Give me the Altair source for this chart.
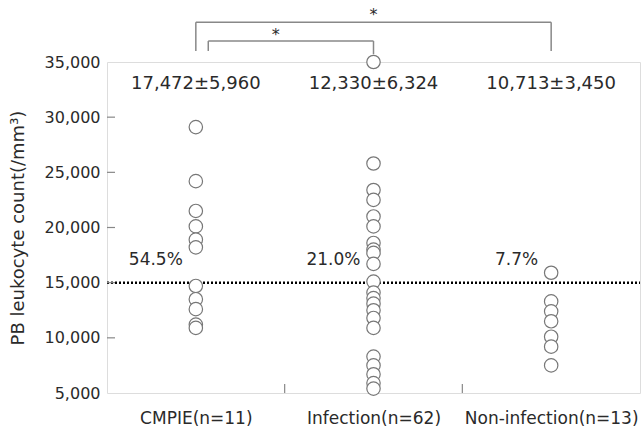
import altair as alt
import pandas as pd

# ---- data ----
categories = ["CMPIE(n=11)", "Infection(n=62)", "Non-infection(n=13)"]

cmpie_values = [29100, 24200, 21500, 20100, 18900, 18200, 14700, 13500, 12600, 11200, 10900]
infection_values = [35000, 25800, 23400, 22500, 21000, 20100, 18600, 18000, 17700, 16700,
                    15100, 14100, 13600, 13100, 12500, 11800, 10900, 8300, 7500, 6700, 5900, 5400]
noninfection_values = [15900, 13300, 12400, 11500, 10100, 9200, 7500]

mean_sd_labels = ["17,472±5,960", "12,330±6,324", "10,713±3,450"]
percent_labels = ["54.5%", "21.0%", "7.7%"]

cutoff = 15000
y_ticks = [5000, 10000, 15000, 20000, 25000, 30000, 35000]

# significance brackets (x in group-index units 0..3, y in count units)
bracket_x = [0.5, 0.5, 2.5, 0.57, 0.57, 1.5]
bracket_x2 = [2.5, 0.5, 2.5, 1.5, 0.57, 1.5]
bracket_y = [38600, 36000, 36000, 36900, 36000, 35700]
bracket_y2 = [38600, 38600, 38600, 36900, 36900, 36900]
star_x = [1.5, 0.95]
star_y = [39300, 37450]

FONT = "DejaVu Sans"
TXT = "#2a2a2a"
W, H = 533, 331

rows = []
for cat, vals in zip(categories, [cmpie_values, infection_values, noninfection_values]):
    for v in vals:
        rows.append({"group": cat, "count": v})
points_df = pd.DataFrame(rows)

stats_df = pd.DataFrame({"group": categories, "label": mean_sd_labels,
                         "pct": percent_labels})
stats_df["y_lab"] = 33000
stats_df["y_pct"] = 17050

tick_df = pd.DataFrame({"v": [t for t in y_ticks if 5000 < t < 35000]})
xtick_df = pd.DataFrame({"b": [1, 2]})
bracket_df = pd.DataFrame({"x": bracket_x, "x2": bracket_x2, "y": bracket_y, "y2": bracket_y2})
star_df = pd.DataFrame({"x": star_x, "y": star_y, "t": ["*", "*"]})
cut_df = pd.DataFrame({"c": [cutoff]})

yscale = alt.Scale(domain=[5000, 35000], nice=False, zero=False)
xnom = alt.X("group:N", sort=categories, title=None,
             axis=alt.Axis(labelFontSize=17, labelColor=TXT, labelFont=FONT, ticks=False,
                           domain=False, labelPadding=17, labelAngle=0, grid=False))
yaxis = alt.Axis(values=y_ticks, format=",d", labelFontSize=16, labelColor=TXT, labelFont=FONT,
                 ticks=False, domain=False, grid=False, labelPadding=7,
                 title="PB leukocyte count(/mm³)", titleFontSize=18, titleFont=FONT,
                 titleColor=TXT, titleFontWeight="normal", titleX=-89, titleY=H / 2,
                 titleAngle=-90, titleAlign="center", titleBaseline="middle")

points = alt.Chart(points_df).mark_point(
    shape="circle", filled=True, fill="white", stroke="#777777", strokeWidth=1.2,
    size=180, opacity=1
).encode(
    x=xnom,
    y=alt.Y("count:Q", scale=yscale, axis=yaxis),
)

cut_line = alt.Chart(cut_df).mark_rule(color="black", strokeWidth=2.5, strokeDash=[2, 2]).encode(
    y=alt.Y("c:Q", scale=yscale), x=alt.value(0), x2=alt.value(W)
)

yticks = alt.Chart(tick_df).mark_rule(color="#888888", strokeWidth=1.2).encode(
    y=alt.Y("v:Q", scale=yscale), x=alt.value(0), x2=alt.value(8)
)

mean_text = alt.Chart(stats_df).mark_text(fontSize=18, font=FONT, color=TXT, baseline="middle").encode(
    x=alt.X("group:N", sort=categories), y=alt.Y("y_lab:Q", scale=yscale), text="label:N"
)

pct_text = alt.Chart(stats_df).mark_text(fontSize=17, font=FONT, color=TXT, align="right",
                                         baseline="middle", dx=-13).encode(
    x=alt.X("group:N", sort=categories), y=alt.Y("y_pct:Q", scale=yscale), text="pct:N"
)

base_layer = alt.layer(cut_line, yticks, points, mean_text, pct_text)

xq = alt.Scale(domain=[0, 3], nice=False, zero=False)
xticks = alt.Chart(xtick_df).mark_rule(color="#888888", strokeWidth=1.2).encode(
    x=alt.X("b:Q", scale=xq, axis=None), y=alt.value(H - 9), y2=alt.value(H)
)
brackets = alt.Chart(bracket_df).mark_rule(color="#888888", strokeWidth=1.5).encode(
    x=alt.X("x:Q", scale=xq, axis=None), x2="x2:Q",
    y=alt.Y("y:Q", scale=yscale), y2="y2:Q"
)
stars = alt.Chart(star_df).mark_text(fontSize=16, font=FONT, color=TXT, baseline="middle").encode(
    x=alt.X("x:Q", scale=xq, axis=None), y=alt.Y("y:Q", scale=yscale), text="t:N"
)
annot_layer = alt.layer(xticks, brackets, stars)

chart = alt.layer(base_layer, annot_layer).resolve_scale(x="independent").properties(
    width=W, height=H,
    padding={"left": 107, "top": 62, "right": 2, "bottom": 36},
    autosize=alt.AutoSizeParams(type="none"),
).configure_view(stroke="#888888", strokeWidth=1.5).configure(background="white")

chart.save("out.html", embed_options={"renderer": "svg", "actions": False})
